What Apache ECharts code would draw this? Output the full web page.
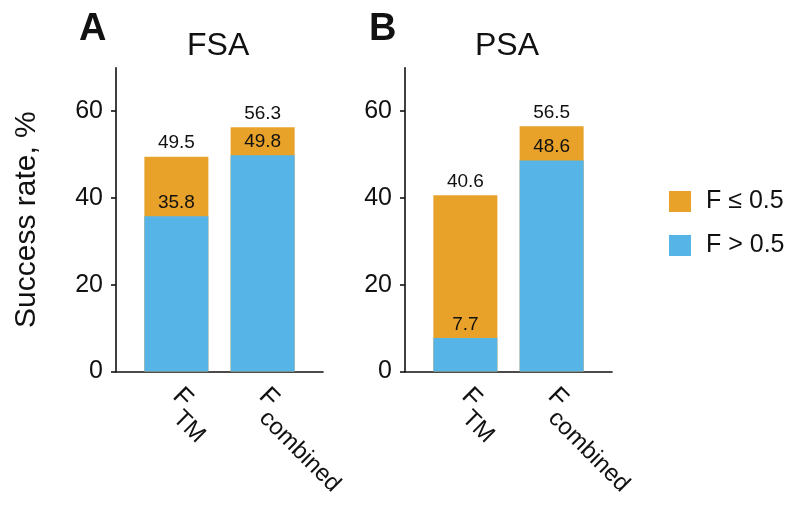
<!DOCTYPE html>
<html>
<head>
<meta charset="utf-8">
<script src="https://cdn.jsdelivr.net/npm/echarts@6/dist/echarts.min.js"></script>
<style>
html,body{margin:0;padding:0;background:#fff;}
#chart{width:800px;height:510px;}
</style>
</head>
<body>
<div id="chart"></div>
<script>
// ---- data ----
const categories = ['TM', 'combined'];          // subscripts of F
const panels = ['FSA', 'PSA'];
const panelLetters = ['A', 'B'];
const fsaTotal = [49.5, 56.3];   // F <= 0.5 stacked top (total)
const fsaHigh  = [35.8, 49.8];   // F > 0.5
const psaTotal = [40.6, 56.5];
const psaHigh  = [7.7, 48.6];
const yTicks = [0, 20, 40, 60];
const legendNames = ['F \u2264 0.5', 'F > 0.5'];

const ORANGE = '#E8A229';
const BLUE = '#56B4E7';
const FONT = 'Liberation Sans, Arial, Helvetica, sans-serif';

const totals = [fsaTotal, psaTotal];
const highs = [fsaHigh, psaHigh];
const gridLefts = [116, 405];

const grids = [], xAxes = [], yAxes = [], series = [], titles = [];
panels.forEach((p, k) => {
  grids.push({left: gridLefts[k], width: 207, top: 67.7, height: 303.8});
  xAxes.push({
    gridIndex: k, type: 'value', min: -0.7, max: 1.7,
    axisLine: {show: true, onZero: false, lineStyle: {color: '#111', width: 1.6}},
    axisTick: {show: false},
    splitLine: {show: false},
    axisLabel: {
      customValues: categories.map((c, i) => i),
      rotate: -45, margin: 21,
      formatter: v => '{f|F}{s|' + categories[Math.round(v)] + '}',
      rich: {
        f: {fontSize: 26, fontFamily: FONT, color: '#111', lineHeight: 27, verticalAlign: 'top'},
        s: {fontSize: 24, fontFamily: FONT, color: '#111', lineHeight: 24, padding: [17, 0, 0, 0], verticalAlign: 'top'}
      }
    }
  });
  yAxes.push({
    gridIndex: k, type: 'value', min: 0, max: 70, interval: 20,
    name: k === 0 ? 'Success rate, %' : '',
    nameLocation: 'middle', nameGap: 74,
    nameTextStyle: {fontSize: 30, fontFamily: FONT, color: '#111'},
    axisLine: {show: true, onZero: false, lineStyle: {color: '#111', width: 1.6}},
    axisTick: {show: true, length: 5, lineStyle: {color: '#111', width: 1.6}, customValues: yTicks},
    splitLine: {show: false},
    axisLabel: {customValues: yTicks, fontSize: 25, fontFamily: FONT, color: '#111', margin: 13}
  });
  series.push({
    name: legendNames[0], type: 'bar', xAxisIndex: k, yAxisIndex: k,
    barWidth: 64, barGap: '-100%',
    itemStyle: {color: ORANGE},
    data: totals[k].map((v, i) => [i, v]),
    label: {show: true, position: 'top', distance: 4, fontSize: 19, fontFamily: FONT, color: '#111',
      formatter: d => d.value[1].toFixed(1)}
  });
  series.push({
    name: legendNames[1], type: 'bar', xAxisIndex: k, yAxisIndex: k,
    barWidth: 64, barGap: '-100%',
    itemStyle: {color: BLUE},
    data: highs[k].map((v, i) => [i, v]),
    label: {show: true, position: 'top', distance: 4, fontSize: 19, fontFamily: FONT, color: '#111',
      formatter: d => d.value[1].toFixed(1)}
  });
});

titles.push({text: panelLetters[0], left: 79, top: 11, padding: 0,
  textStyle: {fontSize: 38, fontWeight: 'bold', fontFamily: FONT, color: '#111'}});
titles.push({text: panels[0], left: 187, top: 30, padding: 0,
  textStyle: {fontSize: 32, fontWeight: 'normal', fontFamily: FONT, color: '#111'}});
titles.push({text: panelLetters[1], left: 369, top: 11, padding: 0,
  textStyle: {fontSize: 38, fontWeight: 'bold', fontFamily: FONT, color: '#111'}});
titles.push({text: panels[1], left: 475, top: 30, padding: 0,
  textStyle: {fontSize: 32, fontWeight: 'normal', fontFamily: FONT, color: '#111'}});

const chart = echarts.init(document.getElementById('chart'), null, {renderer: 'canvas'});
chart.setOption({
  animation: false,
  backgroundColor: '#fff',
  title: titles,
  legend: {
    data: legendNames, orient: 'vertical', left: 669, top: 189, padding: 0,
    icon: 'rect', itemWidth: 22, itemHeight: 21, itemGap: 19,
    textStyle: {fontSize: 25, fontFamily: FONT, color: '#111', padding: [0, 0, 0, 10]}
  },
  grid: grids, xAxis: xAxes, yAxis: yAxes, series: series
});
</script>
</body>
</html>
